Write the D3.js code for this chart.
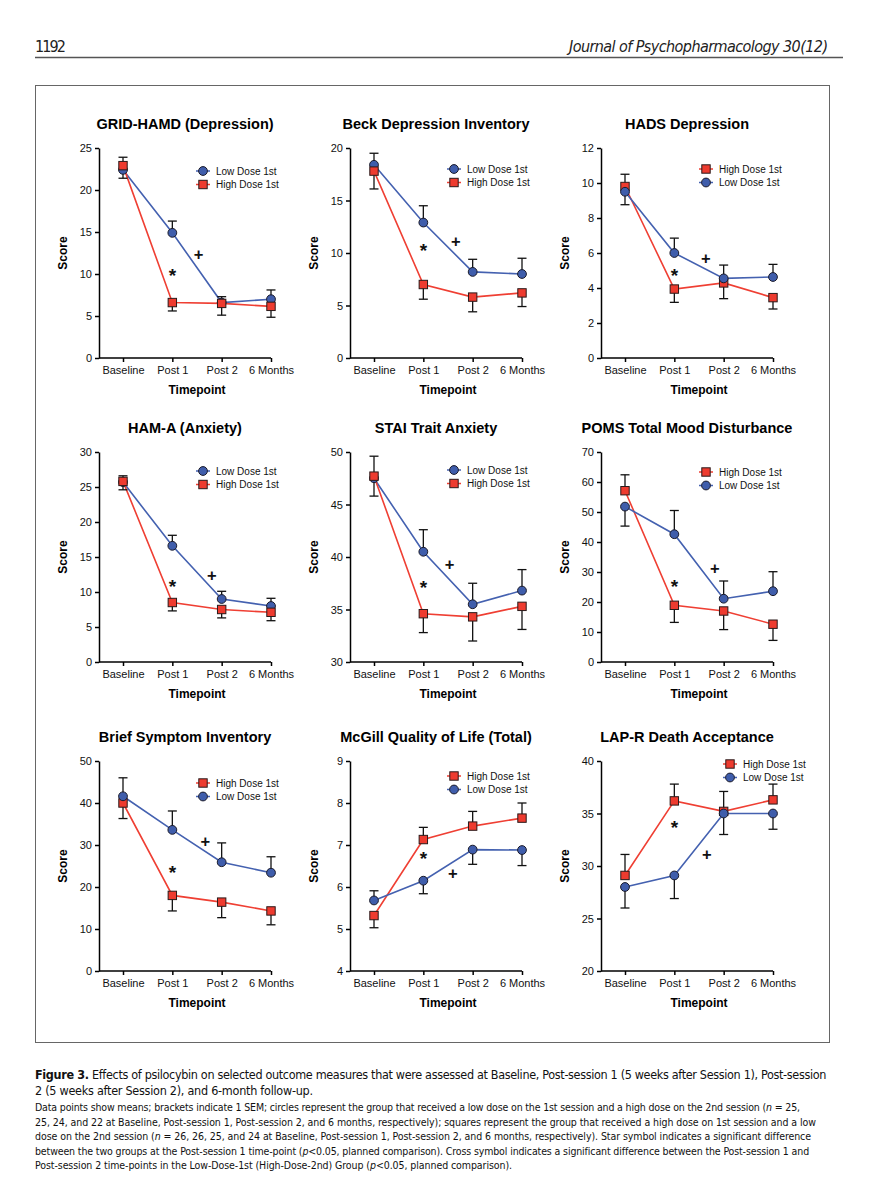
<!DOCTYPE html>
<html lang="en">
<head>
<meta charset="utf-8">
<title>Figure 3 - Psilocybin outcome measures</title>
<script src="https://cdn.jsdelivr.net/npm/d3@7"></script>
<style>
  body { margin: 0; background: #fff; }
  svg { display: block; }
  .sans { font-family: "Liberation Sans", Arial, Helvetica, sans-serif; }
  .narrow { font-family: "Liberation Sans Narrow", "DejaVu Sans Condensed", sans-serif; }
</style>
</head>
<body>
<svg id="fig" width="878" height="1199"></svg>
<script>
// ---- data ----
const timepoints = ["Baseline", "Post 1", "Post 2", "6 Months"];

const titles = [
  "GRID-HAMD (Depression)", "Beck Depression Inventory", "HADS Depression",
  "HAM-A (Anxiety)", "STAI Trait Anxiety", "POMS Total Mood Disturbance",
  "Brief Symptom Inventory", "McGill Quality of Life (Total)", "LAP-R Death Acceptance"
];

const yDomains = [[0, 25], [0, 20], [0, 12], [0, 30], [30, 50], [0, 70], [0, 50], [4, 9], [20, 40]];
const yStep = [5, 5, 2, 5, 5, 10, 10, 1, 5];

// circles: low dose 1st
const lowMeans = [
  [22.4, 14.9, 6.6, 7.0],
  [18.4, 12.9, 8.2, 8.0],
  [9.5, 6.0, 4.55, 4.63],
  [25.7, 16.6, 9.0, 8.0],
  [47.5, 40.5, 35.5, 36.8],
  [51.8, 42.6, 21.1, 23.6],
  [41.6, 33.6, 25.9, 23.4],
  [5.68, 6.15, 6.89, 6.88],
  [28.0, 29.1, 35.0, 35.0]
];
const lowSem = [
  [1.0, 1.4, 0.7, 1.1],
  [1.1, 1.6, 1.2, 1.5],
  [0.74, 0.85, 0.76, 0.72],
  [1.1, 1.5, 1.1, 1.1],
  [1.7, 2.1, 2.0, 2.0],
  [6.5, 7.9, 5.9, 6.5],
  [4.4, 4.5, 4.6, 3.8],
  [0.23, 0.31, 0.35, 0.37],
  [2.0, 2.2, 2.0, 1.5]
];

// squares: high dose 1st
const highMeans = [
  [22.9, 6.6, 6.5, 6.15],
  [17.8, 7.0, 5.8, 6.2],
  [9.8, 3.94, 4.29, 3.45],
  [25.8, 8.5, 7.5, 7.1],
  [47.7, 34.6, 34.3, 35.3],
  [57.1, 18.9, 17.0, 12.6],
  [40.0, 18.0, 16.4, 14.3],
  [5.32, 7.13, 7.45, 7.64],
  [29.1, 36.2, 35.2, 36.3]
];
const highSem = [
  [1.0, 1.0, 1.4, 1.3],
  [1.7, 1.4, 1.4, 1.3],
  [0.7, 0.76, 0.9, 0.65],
  [0.8, 1.2, 1.2, 1.2],
  [1.9, 1.8, 2.3, 2.2],
  [5.3, 5.7, 6.2, 5.4],
  [3.7, 3.7, 3.7, 3.3],
  [0.29, 0.29, 0.35, 0.36],
  [2.0, 1.6, 1.9, 1.5]
];

// which group is listed first in each legend
const highFirst = [false, false, true, false, false, true, true, true, true];

// significance marks: star at Post 1, cross between Post 1 and Post 2
const starY = [10.4, 10.7, 5.0, 11.5, 37.5, 26.6, 24.5, 6.78, 34.1];
const plusY = [12.4, 11.1, 5.7, 12.4, 39.3, 31.3, 31.0, 6.33, 31.1];
const plusAt = [1.53, 1.66, 1.64, 1.8, 1.53, 1.82, 1.67, 1.6, 1.66];

const captionHead = [
  [["Figure 3.", "bold"], ["  Effects of psilocybin on selected outcome measures that were assessed at Baseline, Post-session 1 (5 weeks after Session 1), Post-session", ""]],
  [["2 (5 weeks after Session 2), and 6-month follow-up.", ""]]
];
const captionBody = [
  [["Data points show means; brackets indicate 1 SEM; circles represent the group that received a low dose on the 1st session and a high dose on the 2nd session (", ""], ["n", "italic"], [" = 25,", ""]],
  [["25, 24, and 22 at Baseline, Post-session 1, Post-session 2, and 6 months, respectively); squares represent the group that received a high dose on 1st session and a low", ""]],
  [["dose on the 2nd session (", ""], ["n", "italic"], [" = 26, 26, 25, and 24 at Baseline, Post-session 1, Post-session 2, and 6 months, respectively). Star symbol indicates a significant difference", ""]],
  [["between the two groups at the Post-session 1 time-point (", ""], ["p", "italic"], ["<0.05, planned comparison). Cross symbol indicates a significant difference between the Post-session 1 and", ""]],
  [["Post-session 2 time-points in the Low-Dose-1st (High-Dose-2nd) Group (", ""], ["p", "italic"], ["<0.05, planned comparison).", ""]]
];

// ---- layout ----
const colX = [99, 350, 601];
const rowY = [148, 452, 761];
const plotH = 210;
const plotW = 172;
const legendDx = [104, 104, 105, 104, 104, 105, 104, 104, 129];
const legendDy = [23, 21, 21, 19, 18, 20, 22, 15, 3];
const blue = "#3F5DAB", blueLine = "#4461B0";
const red = "#EE3B2F", redLine = "#EF3F33";

const svg = d3.select("#fig");
svg.append("rect").attr("width", 878).attr("height", 1199).attr("fill", "#fff");

// squeeze a line of text to a target width with letter spacing
function fitWidth(t, len) {
  const w = t.node().getComputedTextLength();
  const n = t.text().length;
  if (n > 1) t.attr("letter-spacing", ((len - w) / (n - 1)).toFixed(3));
}

// running header
const pageNo = svg.append("text").attr("class", "narrow")
    .attr("x", 35).attr("y", 52).attr("font-size", 16).attr("fill", "#222")
    .text("1192");
fitWidth(pageNo, 31);
const journal = svg.append("text").attr("class", "narrow")
    .attr("x", 569).attr("y", 52).attr("font-size", 16).attr("fill", "#222")
    .attr("font-style", "italic")
    .text("Journal of Psychopharmacology 30(12)");
fitWidth(journal, 259);
svg.append("line")
    .attr("x1", 35).attr("x2", 843).attr("y1", 57.5).attr("y2", 57.5)
    .attr("stroke", "#555").attr("stroke-width", 1.5);

// figure frame
svg.append("rect")
    .attr("x", 35.5).attr("y", 85.5).attr("width", 794).attr("height", 957)
    .attr("fill", "none").attr("stroke", "#666").attr("stroke-width", 1);

function drawMarker(sel, shape, color) {
  if (shape === "circle") {
    return sel.append("circle").attr("r", 4.4)
      .attr("fill", color).attr("stroke", "#1b1b2a").attr("stroke-width", 1);
  }
  return sel.append("rect").attr("x", -4.2).attr("y", -4.2).attr("width", 8.4).attr("height", 8.4)
    .attr("fill", color).attr("stroke", "#2a1a1a").attr("stroke-width", 1);
}

titles.forEach(function (title, i) {
  const g = svg.append("g").attr("class", "sans")
      .attr("transform", `translate(${colX[i % 3]},${rowY[Math.floor(i / 3)]})`);

  const x = d3.scalePoint().domain(timepoints).range([24, plotW]);
  const xi = d3.scaleLinear().domain([0, timepoints.length - 1]).range(x.range());
  const y = d3.scaleLinear().domain(yDomains[i]).range([plotH, 0]);
  const ticks = d3.range(yDomains[i][0], yDomains[i][1] + yStep[i] / 2, yStep[i]);

  const yAxis = g.append("g")
      .call(d3.axisLeft(y).tickValues(ticks).tickFormat(d3.format("~g"))
        .tickSize(4).tickSizeOuter(0).tickPadding(3));
  const xAxis = g.append("g").attr("transform", `translate(0,${plotH})`)
      .call(d3.axisBottom(x).tickSize(4).tickSizeOuter(0).tickPadding(4));
  xAxis.select(".domain").attr("d", `M0,0H${plotW}`);
  [yAxis, xAxis].forEach(function (a) {
    a.selectAll("path, line").attr("stroke", "#000").attr("stroke-width", 1.5);
    a.selectAll("text").attr("font-size", 11).attr("fill", "#111")
      .attr("font-family", "'Liberation Sans', Arial, sans-serif");
  });

  g.append("text").attr("x", plotW / 2).attr("y", -19)
      .attr("text-anchor", "middle").attr("font-size", 14.5).attr("font-weight", "bold")
      .text(title);
  g.append("text").attr("transform", `translate(-36,${plotH / 2}) rotate(-90)`)
      .attr("text-anchor", "middle").attr("dy", "0.35em")
      .attr("font-size", 12).attr("font-weight", "bold").text("Score");
  g.append("text").attr("x", (x.range()[0] + x.range()[1]) / 2).attr("y", plotH + 36)
      .attr("text-anchor", "middle").attr("font-size", 12).attr("font-weight", "bold")
      .text("Timepoint");

  const low = { name: "Low Dose 1st", means: lowMeans[i], sem: lowSem[i], fill: blue, line: blueLine, shape: "circle" };
  const high = { name: "High Dose 1st", means: highMeans[i], sem: highSem[i], fill: red, line: redLine, shape: "square" };
  low.other = high; high.other = low;
  const groups = highFirst[i] ? [high, low] : [low, high];

  const line = d3.line().x((d, k) => x(timepoints[k])).y(d => y(d));
  groups.forEach(function (s) {
    g.append("path").datum(s.means).attr("d", line)
      .attr("fill", "none").attr("stroke", s.line).attr("stroke-width", 1.6);
  });

  // one-sided SEM brackets: upward for the higher group, downward for the lower
  groups.forEach(function (s) {
    const bars = g.append("g").attr("stroke", "#111").attr("stroke-width", 1.3)
      .selectAll("g").data(s.means).join("g");
    bars.each(function (m, k) {
      const end = m >= s.other.means[k] ? m + s.sem[k] : m - s.sem[k];
      const b = d3.select(this);
      b.append("line").attr("x1", x(timepoints[k])).attr("x2", x(timepoints[k]))
        .attr("y1", y(m)).attr("y2", y(end));
      b.append("line").attr("x1", x(timepoints[k]) - 4.5).attr("x2", x(timepoints[k]) + 4.5)
        .attr("y1", y(end)).attr("y2", y(end));
    });
  });

  groups.forEach(function (s) {
    s.means.forEach(function (m, k) {
      const mk = g.append("g").attr("transform", `translate(${x(timepoints[k])},${y(m)})`);
      drawMarker(mk, s.shape, s.fill);
    });
  });

  // significance symbols
  g.append("text").attr("x", xi(1)).attr("y", y(starY[i]) + 11)
      .attr("text-anchor", "middle").attr("font-size", 19).attr("font-weight", "bold")
      .attr("fill", "#111").text("*");
  g.append("text").attr("x", xi(plusAt[i])).attr("y", y(plusY[i]) + 5.8)
      .attr("text-anchor", "middle").attr("font-size", 16.5).attr("font-weight", "bold")
      .attr("fill", "#111").text("+");

  // legend
  const lg = g.append("g").attr("transform", `translate(${legendDx[i]},${legendDy[i]})`);
  groups.forEach(function (s, k) {
    const row = lg.append("g").attr("transform", `translate(0,${k * 13.5})`);
    row.append("line").attr("x1", -7).attr("x2", 7)
      .attr("stroke", s.line).attr("stroke-width", 1.5);
    drawMarker(row, s.shape, s.fill);
    row.append("text").attr("x", 13).attr("dy", "0.35em")
      .attr("font-size", 10).attr("fill", "#111").text(s.name);
  });
});

// caption
const headLen = [791, 278];
const bodyLen = [765, 781, 776, 774, 477];
const headY = [1079, 1095];
const bodyY = [1111, 1125.5, 1140, 1154.5, 1169];
function captionLine(segments, yPos, size, len) {
  const t = svg.append("text").attr("class", "narrow")
      .attr("x", 35).attr("y", yPos).attr("font-size", size).attr("fill", "#111");
  segments.forEach(function (s) {
    const sp = t.append("tspan").text(s[0]);
    if (s[1] === "bold") sp.attr("font-weight", "bold");
    if (s[1] === "italic") sp.attr("font-style", "italic");
  });
  fitWidth(t, len);
}
captionHead.forEach((segs, k) => captionLine(segs, headY[k], 12.5, headLen[k]));
captionBody.forEach((segs, k) => captionLine(segs, bodyY[k], 10.5, bodyLen[k]));
</script>
</body>
</html>
